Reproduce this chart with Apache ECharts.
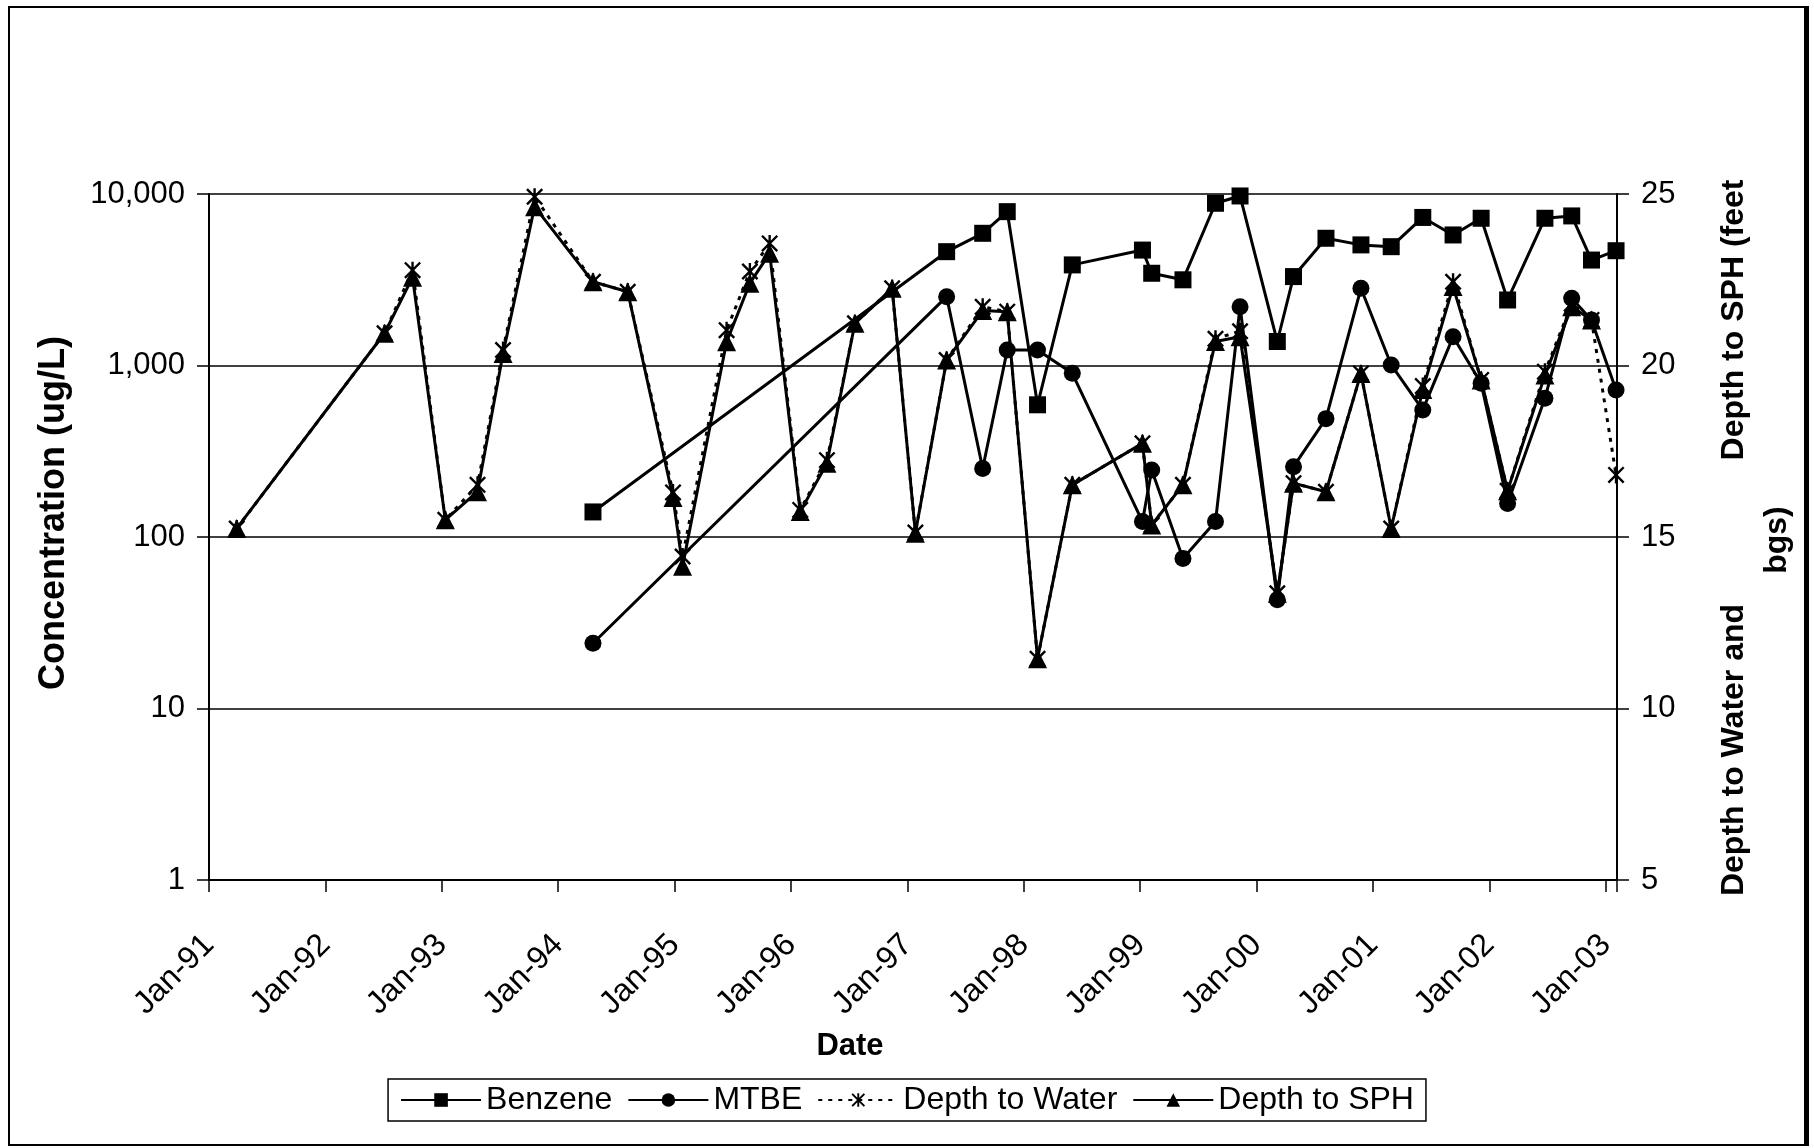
<!DOCTYPE html>
<html>
<head>
<meta charset="utf-8">
<script src="https://cdn.jsdelivr.net/npm/echarts@6/dist/echarts.min.js"></script>
<style>
html,body{margin:0;padding:0;background:#fff;}
#chart{width:1814px;height:1148px;}
</style>
</head>
<body>
<div id="chart"></div>
<script>
// ---- data ----
const sampleDates = [
  '1991-03-29','1992-07-05','1992-10-01','1993-01-12','1993-04-23','1993-07-12','1993-10-19',
  '1994-04-20','1994-08-07','1994-12-27','1995-01-26','1995-06-13','1995-08-25','1995-10-26',
  '1996-01-30','1996-04-23','1996-07-20','1996-11-14','1997-01-26','1997-05-04','1997-08-25',
  '1997-11-10','1998-02-13','1998-06-02','1999-01-08','1999-02-06','1999-05-15','1999-08-25',
  '1999-11-10','2000-03-06','2000-04-26','2000-08-06','2000-11-24','2001-02-27','2001-06-06',
  '2001-09-09','2001-12-06','2002-02-27','2002-06-24','2002-09-16','2002-11-17','2003-02-02'
];
const benzene = [
  null,null,null,null,null,null,null,
  140,null,null,null,null,null,null,
  null,null,null,null,null,4610,5900,
  7890,590,3860,4710,3450,3160,8830,
  9740,1380,3300,5520,5050,4930,7300,
  5770,7220,2410,7220,7450,4120,4670
];
const mtbe = [
  null,null,null,null,null,null,null,
  24,null,null,null,null,null,null,
  null,null,null,null,null,2520,251,
  1230,1230,900,123,246,75,123,
  2200,43,257,490,2820,1007,551,
  1470,787,157,644,2470,1840,720
];
const depthWater = [
  15.25,20.94,22.78,15.5,16.52,20.45,24.92,
  22.44,22.15,16.3,14.43,21.03,22.74,23.56,
  15.79,17.24,21.23,22.25,15.13,20.16,21.71,
  21.57,11.45,16.52,17.73,15.35,16.52,20.78,
  21.0,13.36,16.57,16.32,19.77,15.25,19.4,
  22.44,19.58,16.35,19.82,21.8,21.33,16.81
];
const depthSPH = [
  15.25,20.94,22.57,15.5,16.32,20.35,24.63,
  22.44,22.15,16.15,14.15,20.69,22.4,23.27,
  15.74,17.15,21.23,22.25,15.11,20.16,21.6,
  21.57,11.45,16.52,17.73,15.35,16.52,20.7,
  20.84,13.36,16.57,16.32,19.77,15.25,19.3,
  22.3,19.58,16.35,19.72,21.71,21.33,null
];
const seriesNames = ['Benzene','MTBE','Depth to Water','Depth to SPH'];
const xStart = '1991-01-01';
const xEnd = '2003-02-05';
const leftTicks = [1,10,100,1000,10000];
const rightMin = 5, rightMax = 25, rightStep = 5;

// ---- helpers ----
function decYear(s){
  const p = s.split('-').map(Number);
  const y = p[0];
  const t = Date.UTC(y, p[1]-1, p[2]);
  const a = Date.UTC(y,0,1), b = Date.UTC(y+1,0,1);
  return y + (t-a)/(b-a);
}
function pairs(vals){
  return sampleDates.map((d,i)=>[decYear(d), vals[i]]).filter(p=>p[1]!==null);
}
const FONT = 'Liberation Sans, Arial, Helvetica, sans-serif';
const starPath = 'path://M8.6,0H11.4V20H8.6Z M0,2L2,0L20,18L18,20Z M18,0L20,2L2,20L0,18Z';

const chart = echarts.init(document.getElementById('chart'), null, {renderer:'canvas'});
const lineBase = {color:'#000', width:3};
const option = {
  backgroundColor:'#fff',
  animation:false,
  textStyle:{fontFamily:FONT, color:'#000'},
  grid:{left:209, right:197, top:194, bottom:268, show:false},
  legend:{
    data:seriesNames,
    left:'center', top:1079,
    itemWidth:80, itemHeight:17, itemGap:15,
    padding:[5,12,5,12],
    borderColor:'#000', borderWidth:1.5,
    textStyle:{fontFamily:FONT, fontSize:32, color:'#000'}
  },
  xAxis:{
    type:'value',
    min:decYear(xStart), max:decYear(xEnd), interval:1,
    axisLine:{show:true, lineStyle:{color:'#000', width:2}},
    axisTick:{show:true, length:12, lineStyle:{color:'#000', width:1.5}},
    splitLine:{show:false},
    axisLabel:{
      rotate:45, margin:60, fontSize:32, fontFamily:FONT, color:'#000',
      formatter:function(v){
        if (Math.abs(v-Math.round(v))>1e-6) return '';
        return 'Jan-' + String(Math.round(v)).slice(2);
      }
    }
  },
  yAxis:[{
    type:'log', logBase:10, min:leftTicks[0], max:leftTicks[leftTicks.length-1],
    position:'left',
    axisLine:{show:true, lineStyle:{color:'#000', width:2}},
    axisTick:{show:true, length:12, lineStyle:{color:'#000', width:1.5}},
    splitLine:{show:true, lineStyle:{color:'#000', width:1.5}},
    minorTick:{show:false},
    axisLabel:{margin:24, fontSize:31, fontFamily:FONT, color:'#000',
      formatter:function(v){ return Number(v).toLocaleString('en-US'); }}
  },{
    type:'value', min:rightMin, max:rightMax, interval:rightStep,
    position:'right',
    axisLine:{show:true, lineStyle:{color:'#000', width:2}},
    axisTick:{show:true, length:12, lineStyle:{color:'#000', width:1.5}},
    splitLine:{show:false},
    axisLabel:{margin:24, fontSize:31, fontFamily:FONT, color:'#000'}
  }],
  series:[
    {name:seriesNames[0], type:'line', yAxisIndex:0, data:pairs(benzene), connectNulls:true,
     symbol:'rect', symbolSize:17, itemStyle:{color:'#000'}, lineStyle:lineBase, z:2},
    {name:seriesNames[1], type:'line', yAxisIndex:0, data:pairs(mtbe), connectNulls:true,
     symbol:'circle', symbolSize:17, itemStyle:{color:'#000'}, lineStyle:lineBase, z:3},
    {name:seriesNames[2], type:'line', yAxisIndex:1, data:pairs(depthWater), connectNulls:true,
     symbol:starPath, symbolSize:17, itemStyle:{color:'#000'},
     lineStyle:{color:'#000', width:3, type:[4,6]}, z:4},
    {name:seriesNames[3], type:'line', yAxisIndex:1, data:pairs(depthSPH), connectNulls:true,
     symbol:'triangle', symbolSize:19, itemStyle:{color:'#000'}, lineStyle:lineBase, z:5}
  ],
  graphic:[
    {type:'rect', shape:{x:9, y:7, width:1799, height:1138}, style:{fill:null, stroke:'#000', lineWidth:2}, silent:true, z:-1},
    {type:'rect', shape:{x:1804, y:7, width:5, height:1138}, style:{fill:'#000'}, silent:true},
    {type:'text', x:850, y:1046, style:{text:'Date', font:'bold 31px '+FONT, fill:'#000', textAlign:'center', textVerticalAlign:'middle'}},
    {type:'text', x:54, y:513, rotation:Math.PI/2, style:{text:'Concentration (ug/L)', font:'bold 36px '+FONT, fill:'#000', textAlign:'center', textVerticalAlign:'middle'}},
    {type:'text', x:1734, y:750, rotation:Math.PI/2, style:{text:'Depth to Water and', font:'bold 32px '+FONT, fill:'#000', textAlign:'center', textVerticalAlign:'middle'}},
    {type:'text', x:1734, y:320, rotation:Math.PI/2, style:{text:'Depth to SPH (feet', font:'bold 32px '+FONT, fill:'#000', textAlign:'center', textVerticalAlign:'middle'}},
    {type:'text', x:1777, y:540, rotation:Math.PI/2, style:{text:'bgs)', font:'bold 32px '+FONT, fill:'#000', textAlign:'center', textVerticalAlign:'middle'}}
  ]
};
chart.setOption(option);
</script>
</body>
</html>
